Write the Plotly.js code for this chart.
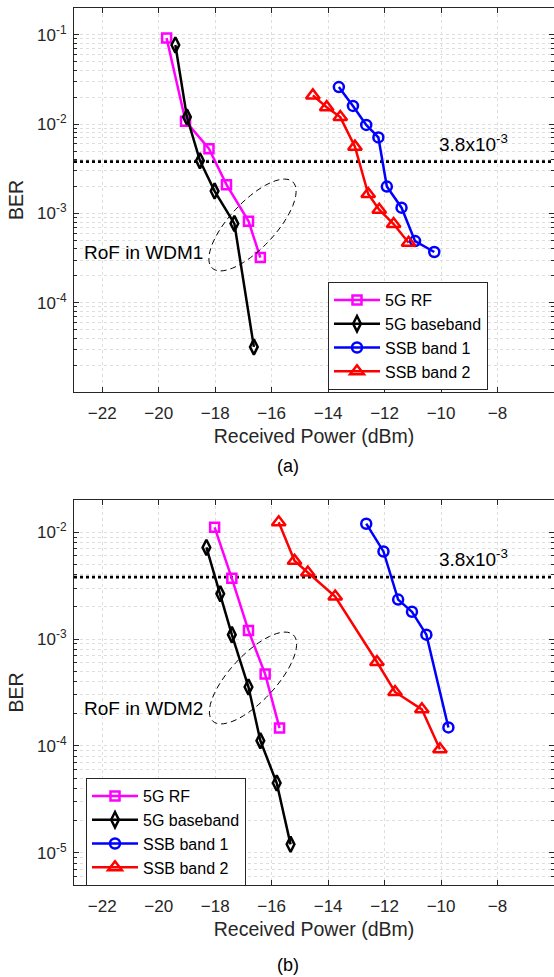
<!DOCTYPE html>
<html>
<head>
<meta charset="utf-8">
<script src="https://cdn.plot.ly/plotly-3.0.1.min.js"></script>
<style>html,body{margin:0;padding:0;background:#fff;}#chart{width:554px;height:977px;}</style>
</head>
<body>
<div id="chart"></div>
<script>
// ---------- data ----------
const seriesNames = ["5G RF", "5G baseband", "SSB band 1", "SSB band 2"];
const xTicks = [-22, -20, -18, -16, -14, -12, -10, -8];
const threshold = 3.8e-3;

// (a) RoF in WDM1
const rfX_a = [-19.72, -19.05, -18.22, -17.6, -16.82, -16.4];
const rfY_a = [0.092, 0.0108, 0.0053, 0.0021, 8.2e-4, 3.2e-4];
const bbX_a = [-19.41, -19.0, -18.54, -18.02, -17.32, -16.63];
const bbY_a = [0.077, 0.012, 0.0039, 0.00178, 7.7e-4, 3.2e-5];
const s1X_a = [-13.62, -13.12, -12.65, -12.22, -11.92, -11.4, -10.92, -10.24];
const s1Y_a = [0.026, 0.016, 0.0098, 0.0071, 0.0020, 0.00116, 4.9e-4, 3.7e-4];
const s2X_a = [-14.54, -14.05, -13.57, -13.05, -12.58, -12.19, -11.68, -11.15];
const s2Y_a = [0.021, 0.0155, 0.012, 0.0056, 0.00165, 0.0011, 7.6e-4, 4.7e-4];

// (b) RoF in WDM2
const rfX_b = [-18.02, -17.41, -16.82, -16.23, -15.72];
const rfY_b = [0.0111, 0.0037, 0.0012, 4.7e-4, 1.47e-4];
const bbX_b = [-18.31, -17.82, -17.41, -16.82, -16.4, -15.82, -15.33];
const bbY_b = [7.2e-3, 2.65e-3, 1.1e-3, 3.56e-4, 1.12e-4, 4.5e-5, 1.2e-5];
const s1X_b = [-12.65, -12.04, -11.52, -11.03, -10.52, -9.74];
const s1Y_b = [0.012, 6.6e-3, 2.34e-3, 1.8e-3, 1.1e-3, 1.49e-4];
const s2X_b = [-15.75, -15.19, -14.72, -13.75, -12.27, -11.63, -10.68, -10.04];
const s2Y_b = [0.0124, 5.4e-3, 4.2e-3, 2.5e-3, 6.1e-4, 3.2e-4, 2.2e-4, 9.3e-5];

const yTicks_a = [1e-4, 1e-3, 1e-2, 1e-1];
const yTickText_a = ["10<sup>-4</sup>", "10<sup>-3</sup>", "10<sup>-2</sup>", "10<sup>-1</sup>"];
const yTicks_b = [1e-5, 1e-4, 1e-3, 1e-2];
const yTickText_b = ["10<sup>-5</sup>", "10<sup>-4</sup>", "10<sup>-3</sup>", "10<sup>-2</sup>"];

// ---------- styling ----------
const FONT = '"Liberation Sans", Arial, sans-serif';
const AX = '#262626';
const GRID = '#dedede';
const W = 554, H = 977, ML = 74, MR = 0, MT = 8, MB = 92;
const PW = W - ML - MR, PH = H - MT - MB;
const px2x = p => (p - ML) / PW;
const px2y = p => (H - MB - p) / PH;

const styles = [
  {color: '#FF00FF', symbol: 'square-open', size: 9},
  {color: '#000000', symbol: 'diamond-tall-open', size: 11},
  {color: '#0000FF', symbol: 'circle-open', size: 10},
  {color: '#FF0000', symbol: 'triangle-up-open', size: 12}
];

function tr(i, x, y, xa, ya, leg) {
  const s = styles[i];
  return {
    x: x, y: y, type: 'scatter', mode: 'lines+markers', name: seriesNames[i],
    xaxis: xa, yaxis: ya, legend: leg,
    line: {color: s.color, width: 2.5},
    marker: {symbol: s.symbol, size: s.size, color: s.color, line: {color: s.color, width: 2.5}}
  };
}
function thr(xa, ya) {
  return {x: [-23, -6], y: [threshold, threshold], xaxis: xa, yaxis: ya, mode: 'lines',
    showlegend: false, hoverinfo: 'skip', line: {color: '#000', width: 2.6, dash: 'dot'}};
}

const data = [
  thr('x', 'y'), thr('x2', 'y2'),
  tr(0, rfX_a, rfY_a, 'x', 'y', 'legend'),
  tr(1, bbX_a, bbY_a, 'x', 'y', 'legend'),
  tr(2, s1X_a, s1Y_a, 'x', 'y', 'legend'),
  tr(3, s2X_a, s2Y_a, 'x', 'y', 'legend'),
  tr(0, rfX_b, rfY_b, 'x2', 'y2', 'legend2'),
  tr(1, bbX_b, bbY_b, 'x2', 'y2', 'legend2'),
  tr(2, s1X_b, s1Y_b, 'x2', 'y2', 'legend2'),
  tr(3, s2X_b, s2Y_b, 'x2', 'y2', 'legend2')
];

function minorVals(lo, hi) {
  const v = [];
  for (let d = lo; d <= hi; d++) for (let k = 2; k <= 9; k++) v.push(k * Math.pow(10, d));
  return v;
}

function xaxis(anchor) {
  return {
    anchor: anchor, domain: [0, 1], range: [-23, -6], tickmode: 'array', tickvals: xTicks,
    ticks: 'inside', ticklen: 5, tickwidth: 1, tickcolor: AX, showline: true, linecolor: AX, linewidth: 1,
    mirror: 'ticks', showgrid: true, gridcolor: GRID, griddash: 'dot', gridwidth: 1, zeroline: false,
    tickfont: {family: FONT, size: 17, color: AX}, ticklabelstandoff: 6,
    title: {text: 'Received Power (dBm)', font: {family: FONT, size: 19.5, color: AX}, standoff: 6}
  };
}
function yaxis(anchor, domain, range, tv, tt, minor) {
  return {
    anchor: anchor, domain: domain, type: 'log', range: range, tickmode: 'array', tickvals: tv, ticktext: tt,
    ticks: 'inside', ticklen: 5, tickwidth: 1, tickcolor: AX, showline: true, linecolor: AX, linewidth: 1,
    mirror: 'ticks', showgrid: true, gridcolor: GRID, griddash: 'dot', gridwidth: 1, zeroline: false,
    minor: {tickmode: 'array', tickvals: minor, ticks: 'inside', ticklen: 3, tickcolor: AX,
            showgrid: true, gridcolor: GRID, griddash: 'dot', gridwidth: 1},
    tickfont: {family: FONT, size: 17, color: AX}, ticklabelstandoff: 3,
    title: {text: 'BER', font: {family: FONT, size: 19.5, color: AX}, standoff: 8}
  };
}

function ellipse(cx, cy, a, b, deg) {
  const th = deg * Math.PI / 180;
  let p = '';
  for (let i = 0; i <= 72; i++) {
    const t = i / 72 * 2 * Math.PI;
    const ex = a * Math.cos(t), ey = b * Math.sin(t);
    const X = cx + ex * Math.cos(th) + ey * Math.sin(th);
    const Y = cy - ex * Math.sin(th) + ey * Math.cos(th);
    p += (i === 0 ? 'M' : 'L') + px2x(X).toFixed(5) + ',' + px2y(Y).toFixed(5);
  }
  return {type: 'path', xref: 'paper', yref: 'paper', path: p + 'Z',
          line: {color: '#000', width: 1, dash: '6px,4px'}};
}

function ann(text, xpx, ypx, size) {
  return {text: text, xref: 'paper', yref: 'paper', x: px2x(xpx), y: px2y(ypx),
          xanchor: 'center', yanchor: 'middle', showarrow: false,
          font: {family: FONT, size: size, color: '#000'}};
}

const legendBase = {
  font: {family: FONT, size: 16, color: '#000'}, bgcolor: '#fff', bordercolor: AX, borderwidth: 1,
  xanchor: 'left', yanchor: 'top', itemwidth: 46, tracegroupgap: 0
};

const layout = {
  width: W, height: H, margin: {l: ML, r: MR, t: MT, b: MB, pad: 0},
  paper_bgcolor: '#fff', plot_bgcolor: '#fff', showlegend: true,
  font: {family: FONT, color: AX},
  xaxis: xaxis('y'),
  yaxis: yaxis('x', [px2y(392), 1], [-5, Math.log10(0.2)], yTicks_a, yTickText_a, minorVals(-5, -1)),
  xaxis2: xaxis('y2'),
  yaxis2: yaxis('x2', [0, px2y(500)], [Math.log10(5e-6), Math.log10(0.02)], yTicks_b, yTickText_b, minorVals(-6, -2)),
  legend: Object.assign({x: px2x(328), y: px2y(282)}, legendBase),
  legend2: Object.assign({x: px2x(86), y: px2y(778)}, legendBase),
  shapes: [ellipse(252.5, 225, 59, 23, 47), ellipse(253, 678, 59, 23, 47)],
  annotations: [
    ann('3.8x10<sup>-3</sup>', 473, 143, 19),
    ann('3.8x10<sup>-3</sup>', 473, 558, 19),
    ann('RoF in WDM1', 143, 253, 19),
    ann('RoF in WDM2', 143, 708, 19),
    ann('(a)', 288, 466, 18),
    ann('(b)', 288, 965, 18)
  ]
};

Plotly.newPlot('chart', data, layout, {displayModeBar: false, staticPlot: true});
</script>
</body>
</html>
